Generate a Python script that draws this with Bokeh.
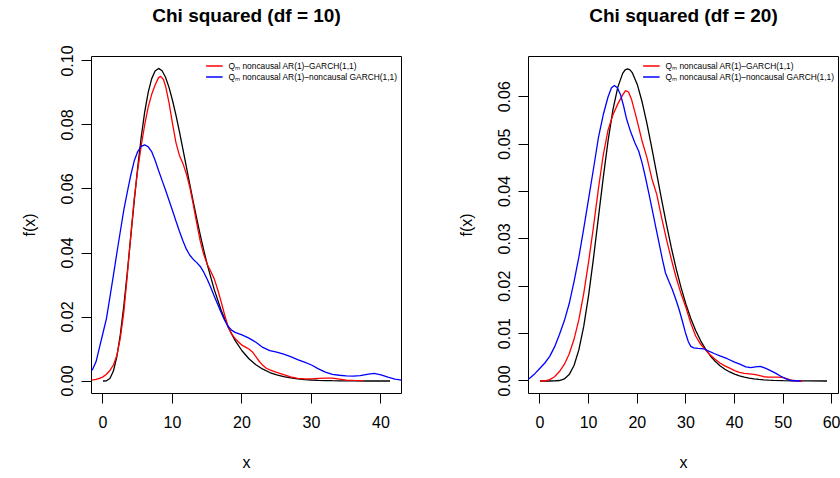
from bokeh.plotting import figure
from bokeh.models import Range1d, FixedTicker, PrintfTickFormatter, Legend, LegendItem, Title
from bokeh.layouts import row
from bokeh.embed import file_html
from bokeh.resources import INLINE

FONT = "Liberation Sans"

# ---------------- data: panel 1, chi squared df = 10 ----------------
title_10 = "Chi squared (df = 10)"
xticks_10 = [0, 10, 20, 30, 40]
yticks_10 = [0.00, 0.02, 0.04, 0.06, 0.08, 0.10]

x10_black = [0, 0.5, 1, 1.5, 2, 2.5, 3, 3.5, 4, 4.5, 5, 5.5, 6, 6.5, 7, 7.5, 8, 8.5, 9, 9.5,
             10, 10.5, 11, 11.5, 12, 12.5, 13, 13.5, 14, 14.5, 15, 16, 17, 18, 19, 20, 21, 22,
             23, 24, 25, 26, 27, 28, 29, 30, 31, 32, 33, 34, 35, 36, 38, 41.3]
y10_black = [0.0, 0.00006, 0.00079, 0.00311, 0.00766, 0.01457, 0.02353, 0.03395, 0.04511, 0.05628,
             0.06680, 0.07617, 0.08402, 0.09012, 0.09441, 0.09689, 0.09768, 0.09695, 0.09490, 0.09175,
             0.08773, 0.08305, 0.07791, 0.07248, 0.06693, 0.06137, 0.05591, 0.05064, 0.04561, 0.04088,
             0.03646, 0.02863, 0.02213, 0.01687, 0.01270, 0.00946, 0.00697, 0.00509, 0.00369, 0.00265,
             0.00190, 0.00134, 0.00095, 0.00067, 0.00046, 0.00032, 0.00022, 0.00015, 0.00010, 0.00007,
             0.00005, 0.00003, 0.00001, 0.0]

x10_red = [-1.65, -1.0, -0.5, 0, 0.5, 1.0, 1.5, 2.0, 2.5, 3.0, 3.5, 4.0, 4.5, 5.0, 5.5, 6.0, 6.5,
           7.0, 7.5, 8.0, 8.3, 8.7, 9.0, 9.5, 10.0, 10.5, 11.0, 11.5, 12.0, 12.5, 13.0, 13.5, 14.0,
           14.5, 15.0, 15.5, 16.0, 16.5, 17.0, 17.5, 18.0, 18.5, 19.0, 19.5, 20.0, 20.5, 21.0, 21.5,
           22.0, 22.5, 23.0, 23.5, 24.0, 25.0, 26.0, 27.0, 28.0, 29.0, 30.0, 31.0, 32.0, 33.0, 34.0,
           35.0, 36.0, 37.5]
y10_red = [0.0003, 0.0005, 0.0008, 0.0013, 0.0021, 0.0033, 0.0050, 0.0080, 0.0135, 0.0215, 0.0330,
           0.0455, 0.0570, 0.0660, 0.0735, 0.0800, 0.0855, 0.0895, 0.0925, 0.0948, 0.0952, 0.0942,
           0.0922, 0.0870, 0.0805, 0.0745, 0.0705, 0.0680, 0.0647, 0.0605, 0.0550, 0.0492, 0.0437,
           0.0395, 0.0365, 0.0343, 0.0320, 0.0286, 0.0248, 0.0207, 0.0170, 0.0147, 0.0133, 0.0122,
           0.0112, 0.0106, 0.0100, 0.0091, 0.0076, 0.0061, 0.0049, 0.0040, 0.0035, 0.0027, 0.0020,
           0.0013, 0.0008, 0.0007, 0.0007, 0.0008, 0.0009, 0.0009, 0.0006, 0.0003, 0.0002, 0.0001]

x10_blue = [-2.0, -1.5, -1.0, -0.5, 0.0, 0.5, 1.0, 1.5, 2.0, 2.5, 3.0, 3.5, 4.0, 4.5, 5.0, 5.5, 6.0,
            6.5, 7.0, 7.5, 8.0, 8.5, 9.0, 9.5, 10.0, 10.5, 11.0, 11.5, 12.0, 12.5, 13.0, 13.5, 14.0,
            14.5, 15.0, 15.5, 16.0, 16.5, 17.0, 17.5, 18.0, 18.5, 19.0, 20.0, 21.0, 22.0, 23.0, 24.0,
            25.0, 26.0, 27.0, 28.0, 29.0, 30.0, 31.0, 32.0, 33.0, 34.0, 35.0, 36.0, 37.0, 38.0, 39.0,
            40.0, 41.0, 42.0, 43.0]
y10_blue = [0.0028, 0.0036, 0.0060, 0.0105, 0.0150, 0.0195, 0.0262, 0.0330, 0.0400, 0.0468, 0.0535,
            0.0590, 0.0643, 0.0688, 0.0717, 0.0733, 0.0738, 0.0732, 0.0717, 0.0690, 0.0658, 0.0627,
            0.0597, 0.0565, 0.0533, 0.0500, 0.0468, 0.0438, 0.0412, 0.0393, 0.0380, 0.0370, 0.0358,
            0.0340, 0.0318, 0.0293, 0.0266, 0.0240, 0.0214, 0.0190, 0.0171, 0.0159, 0.0152, 0.0144,
            0.0134, 0.0121, 0.0105, 0.0095, 0.0090, 0.0084, 0.0076, 0.0067, 0.0059, 0.0050, 0.0038,
            0.0028, 0.0021, 0.0018, 0.0016, 0.0015, 0.0017, 0.0021, 0.0024, 0.0019, 0.0012, 0.0006,
            0.0003]

# ---------------- data: panel 2, chi squared df = 20 ----------------
title_20 = "Chi squared (df = 20)"
xticks_20 = [0, 10, 20, 30, 40, 50, 60]
yticks_20 = [0.00, 0.01, 0.02, 0.03, 0.04, 0.05, 0.06]

x20_black = [0, 2, 3, 4, 5, 6, 7, 8, 9, 10, 11, 12, 13, 14, 15, 16, 17, 17.5, 18, 18.5, 19, 20, 21,
             22, 23, 24, 25, 26, 27, 28, 29, 30, 31, 32, 33, 34, 35, 36, 37, 38, 39, 40, 41, 42, 43,
             44, 45, 46, 47, 48, 50, 52, 55, 59]
y20_black = [0.0, 0.0, 0.00001, 0.0001, 0.00043, 0.00135, 0.00328, 0.00661, 0.01157, 0.01813, 0.02594,
             0.03442, 0.04289, 0.05074, 0.05727, 0.06204, 0.06494, 0.06566, 0.06589, 0.06566, 0.06503,
             0.06260, 0.05889, 0.05426, 0.04909, 0.04372, 0.03829, 0.03305, 0.02813, 0.02368, 0.01970,
             0.01621, 0.01320, 0.01065, 0.00853, 0.00677, 0.00533, 0.00416, 0.00323, 0.00249, 0.00191,
             0.00145, 0.00110, 0.00083, 0.00062, 0.00046, 0.00034, 0.00025, 0.00019, 0.00014, 0.00007,
             0.00004, 0.00001, 0.0]

x20_red = [0, 1, 2, 3, 4, 5, 6, 7, 8, 9, 10, 11, 12, 13, 14, 15, 16, 17, 17.6, 18.2, 18.8, 19.5, 20,
           21, 22, 23, 24, 25, 26, 27, 28, 29, 30, 31, 32, 33, 34, 35, 36, 37, 38, 39, 40, 41, 42, 43,
           44, 45, 46, 47, 48, 49, 50, 51, 52, 53, 54]
y20_red = [0.0, 0.00005, 0.0003, 0.0009, 0.0020, 0.0035, 0.0057, 0.0088, 0.0130, 0.0185, 0.0252,
           0.0326, 0.0405, 0.0477, 0.0530, 0.0562, 0.0585, 0.0604, 0.0613, 0.0610, 0.0595, 0.0568,
           0.0548, 0.0506, 0.0471, 0.0427, 0.0394, 0.0345, 0.0299, 0.0257, 0.0218, 0.0184, 0.0155,
           0.0122, 0.0095, 0.0078, 0.0066, 0.0055, 0.0046, 0.0038, 0.0032, 0.0027, 0.0022, 0.0018,
           0.0016, 0.0015, 0.0014, 0.0012, 0.0009, 0.0008, 0.0008, 0.0008, 0.0007, 0.0004, 0.0001,
           0.00003, 0.0]

x20_blue = [-2.5, -2, -1, 0, 1, 2, 3, 4, 5, 6, 7, 8, 9, 10, 11, 12, 13, 14, 14.7, 15.3, 15.9, 16.6,
            17.2, 17.8, 18.6, 19.5, 20.3, 21, 21.7, 22.4, 23.1, 23.8, 24.5, 25.2, 25.8, 26.5, 27.2,
            28, 28.6, 29.3, 29.9, 30.5, 31, 31.6, 32.5, 33.7, 34.7, 35.8, 37, 38.5, 40, 41.2, 42.3,
            43.3, 44.3, 45.3, 46.3, 47.4, 48.5, 49.5, 50.5, 51.5, 53.6]
y20_blue = [0.0003, 0.0007, 0.0016, 0.0027, 0.0038, 0.0052, 0.0072, 0.0098, 0.0127, 0.0163, 0.0210,
            0.0262, 0.0322, 0.0385, 0.0448, 0.0513, 0.0562, 0.0600, 0.0619, 0.0624, 0.0619, 0.0603,
            0.0580, 0.0553, 0.0527, 0.0503, 0.0485, 0.0460, 0.0429, 0.0395, 0.0360, 0.0325, 0.0290,
            0.0255, 0.0228, 0.0210, 0.0193, 0.0170, 0.0151, 0.0125, 0.0102, 0.0083, 0.0073, 0.0070,
            0.0069, 0.0068, 0.0063, 0.0058, 0.0053, 0.0047, 0.0040, 0.0035, 0.0030, 0.0028, 0.0030,
            0.0031, 0.0027, 0.0022, 0.0016, 0.0010, 0.0005, 0.0001, 0.0]

legend_labels = ["Q\u2098 noncausal AR(1)\u2013GARCH(1,1)",
                 "Q\u2098 noncausal AR(1)\u2013noncausal GARCH(1,1)"]


def make_panel(title, xr, yr, xticks, yticks, black, red, blue, bl, br):
    p = figure(width=420, height=478, x_range=Range1d(*xr), y_range=Range1d(*yr),
               output_backend="svg", toolbar_location=None,
               min_border_left=bl, min_border_right=br, min_border_top=53, min_border_bottom=85)

    # spacer (closest to the frame) then the real title above it
    spacer = Title(text=" ", text_font_size="1px", standoff=26, align="center")
    p.add_layout(spacer, "above")
    t = Title(text=title, align="center", vertical_align="bottom", text_font=FONT,
              text_font_size="19px", text_font_style="bold", text_color="black", standoff=4)
    p.add_layout(t, "above")

    p.grid.visible = False
    p.outline_line_color = "black"
    p.outline_line_width = 1
    p.outline_line_alpha = 1
    p.background_fill_color = "white"
    p.border_fill_color = "white"

    p.xaxis.ticker = FixedTicker(ticks=xticks)
    p.yaxis.ticker = FixedTicker(ticks=yticks)
    p.xaxis.formatter = PrintfTickFormatter(format="%d")
    p.yaxis.formatter = PrintfTickFormatter(format="%.2f")
    for ax in (p.xaxis[0], p.yaxis[0]):
        ax.axis_line_color = None
        ax.major_tick_line_color = "black"
        ax.major_tick_line_width = 1
        ax.major_tick_out = 10
        ax.major_tick_in = 0
        ax.minor_tick_line_color = None
        ax.major_label_text_font = FONT
        ax.major_label_text_font_size = "16px"
        ax.major_label_text_color = "black"
        ax.axis_label_text_font = FONT
        ax.axis_label_text_font_size = "16px"
        ax.axis_label_text_font_style = "normal"
        ax.axis_label_text_color = "black"
    p.xaxis.axis_label = "x"
    p.yaxis.axis_label = "f(x)"
    p.yaxis.major_label_orientation = "vertical"
    p.xaxis.major_label_standoff = 12
    p.yaxis.major_label_standoff = 8
    p.xaxis.axis_label_standoff = 23
    p.yaxis.axis_label_standoff = 21

    p.line(black[0], black[1], line_color="black", line_width=1.3)
    r_red = p.line(red[0], red[1], line_color="#FF0000", line_width=1.3)
    r_blue = p.line(blue[0], blue[1], line_color="#0000FF", line_width=1.3)

    legend = Legend(items=[LegendItem(label=legend_labels[0], renderers=[r_red]),
                           LegendItem(label=legend_labels[1], renderers=[r_blue])],
                    location="top_right")
    legend.label_text_font = FONT
    legend.label_text_font_size = "8.4px"
    legend.label_text_color = "black"
    legend.glyph_width = 17
    legend.glyph_height = 9
    legend.label_height = 9
    legend.label_standoff = 6
    legend.spacing = 0
    legend.padding = 2
    legend.margin = 2
    legend.border_line_alpha = 0
    legend.background_fill_alpha = 0
    p.add_layout(legend)
    return p


p1 = make_panel(title_10, (-1.65, 42.95), (-0.0039, 0.1014), xticks_10, yticks_10,
                (x10_black, y10_black), (x10_red, y10_red), (x10_blue, y10_blue), 91, 19)
p2 = make_panel(title_20, (-2.36, 61.36), (-0.00264, 0.0685), xticks_20, yticks_20,
                (x20_black, y20_black), (x20_red, y20_red), (x20_blue, y20_blue), 108, 2)

layout = row(p1, p2, spacing=0)
open("out.html", "w").write(file_html(layout, INLINE))
